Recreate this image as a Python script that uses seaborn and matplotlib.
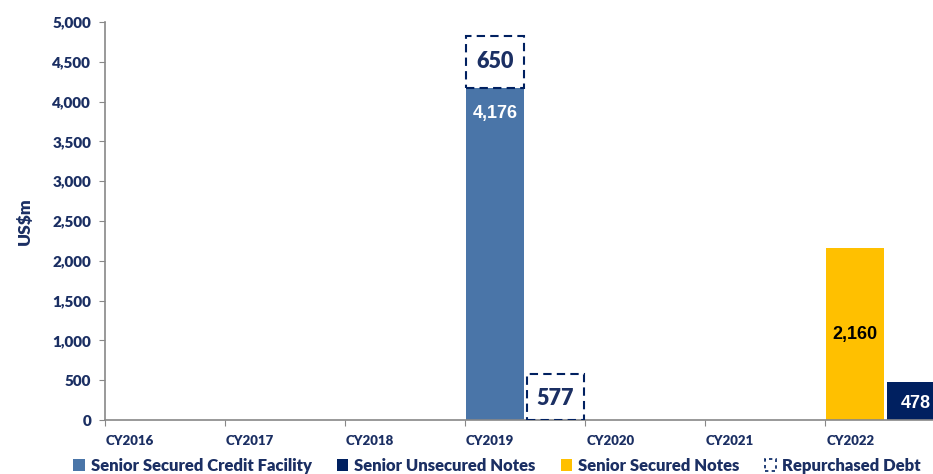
import matplotlib.pyplot as plt
import matplotlib.patches as mpatches
import numpy as np
import pandas as pd
import seaborn as sns

# data (US$m)
years = ["CY2016", "CY2017", "CY2018", "CY2019", "CY2020", "CY2021", "CY2022"]
credit_facility = [0, 0, 0, 4176, 0, 0, 0]        # Senior Secured Credit Facility
unsecured_notes = [0, 0, 0, 0, 0, 0, 478]         # Senior Unsecured Notes
secured_notes = [0, 0, 0, 0, 0, 0, 2160]          # Senior Secured Notes
repurchased_on_facility = [0, 0, 0, 650, 0, 0, 0]  # Repurchased Debt (stacked on facility)
repurchased_on_notes = [0, 0, 0, 577, 0, 0, 0]     # Repurchased Debt (unsecured slot)

navy_txt = "#1B2F63"
c_facility = "#4A75A8"
c_unsecured = "#002060"
c_secured = "#FFC000"

sns.set_style("white")
plt.rcParams["font.family"] = ["Lato", "DejaVu Sans"]
plt.rcParams["font.weight"] = "bold"
narrow = ["Liberation Sans Narrow", "Liberation Sans", "DejaVu Sans"]

fig = plt.figure(figsize=(9.33, 4.74), dpi=100)
ax = fig.add_axes([105 / 933, 54 / 474, 828 / 933, 398 / 474])

idx = np.arange(len(years))
left_x = idx + 0.25
right_x = idx + 0.755
w = 0.48

def bars(xs, vals, color):
    df = pd.DataFrame({"x": xs, "v": vals})
    df = df[df["v"] > 0]
    for _, r in df.iterrows():
        sns.barplot(x=[r["x"]], y=[r["v"]], native_scale=True, width=w,
                    color=color, saturation=1, edgecolor="none", ax=ax)

bars(left_x, credit_facility, c_facility)
bars(left_x, secured_notes, c_secured)
bars(right_x, unsecured_notes, c_unsecured)

# repurchased debt: dashed boxes
rep_x = [left_x[i] for i in range(7) if repurchased_on_facility[i] > 0] + \
        [right_x[i] for i in range(7) if repurchased_on_notes[i] > 0]
rep_h = [v for v in repurchased_on_facility if v > 0] + [v for v in repurchased_on_notes if v > 0]
rep_b = [credit_facility[i] for i in range(7) if repurchased_on_facility[i] > 0] + \
        [0 for v in repurchased_on_notes if v > 0]
ax.bar(rep_x, rep_h, bottom=rep_b, width=w, facecolor="none", edgecolor=c_unsecured,
       linewidth=1.5, linestyle=(0, (4, 2.5)), zorder=3)

# labels
for i in range(7):
    if credit_facility[i]:
        ax.text(left_x[i], credit_facility[i] - 330, f"{credit_facility[i]:,}", ha="center",
                va="center", color="white", fontsize=13, fontweight="bold", family=narrow)
    if secured_notes[i]:
        ax.text(left_x[i], secured_notes[i] - 1080, f"{secured_notes[i]:,}", ha="center",
                va="center", color="black", fontsize=13, fontweight="bold", family=narrow)
    if unsecured_notes[i]:
        ax.text(6.885, unsecured_notes[i] / 2 - 30, f"{unsecured_notes[i]:,}", ha="right",
                va="center", color="white", fontsize=13, fontweight="bold", family=narrow)
    if repurchased_on_facility[i]:
        ax.text(left_x[i], credit_facility[i] + repurchased_on_facility[i] / 2, f"{repurchased_on_facility[i]:,}",
                ha="center", va="center", color=navy_txt, fontsize=15.5, fontweight="heavy")
    if repurchased_on_notes[i]:
        ax.text(right_x[i], repurchased_on_notes[i] / 2 - 20, f"{repurchased_on_notes[i]:,}",
                ha="center", va="center", color=navy_txt, fontsize=15.5, fontweight="heavy")

ax.set_xlim(0, 6.9)
ax.set_ylim(0, 5000)
ax.set_yticks(np.arange(0, 5001, 500))
ax.set_yticklabels([f"{v:,}" for v in range(0, 5001, 500)], color=navy_txt, fontsize=11, fontweight="heavy")
ax.set_xticks(idx)
ax.set_xticklabels([])
ax.set_xticks(idx + 0.21, minor=True)
ax.set_xticklabels(years, minor=True, color=navy_txt, fontsize=9.5, fontweight="heavy")
ax.tick_params(axis="x", which="major", direction="out", length=4, color="#888888", bottom=True)
ax.tick_params(axis="x", which="minor", length=0, pad=11)
ax.tick_params(axis="y", direction="out", length=4, color="#888888", left=True, pad=6)
ax.set_xlabel("")
ax.set_ylabel("US$m", color=navy_txt, fontsize=12.5, fontweight="heavy", labelpad=14)

for s in ["top", "right"]:
    ax.spines[s].set_visible(False)
for s in ["left", "bottom"]:
    ax.spines[s].set_color("#888888")
    ax.spines[s].set_linewidth(1.2)

handles = [
    mpatches.Patch(facecolor=c_facility, edgecolor="none", label="Senior Secured Credit Facility"),
    mpatches.Patch(facecolor=c_unsecured, edgecolor="none", label="Senior Unsecured Notes"),
    mpatches.Patch(facecolor=c_secured, edgecolor="none", label="Senior Secured Notes"),
    mpatches.Patch(facecolor="none", edgecolor=c_unsecured, linestyle=(0, (2, 2)), linewidth=1.2,
                   label="Repurchased Debt"),
]
leg = fig.legend(handles=handles, loc="center", bbox_to_anchor=(497 / 933, 1 - 466 / 474), ncol=4,
                 frameon=False, handlelength=0.7, handleheight=0.7, handletextpad=0.35,
                 columnspacing=1.5, prop={"size": 12, "weight": "heavy"})
for t in leg.get_texts():
    t.set_color(navy_txt)

fig.savefig("out.png", dpi=100)
